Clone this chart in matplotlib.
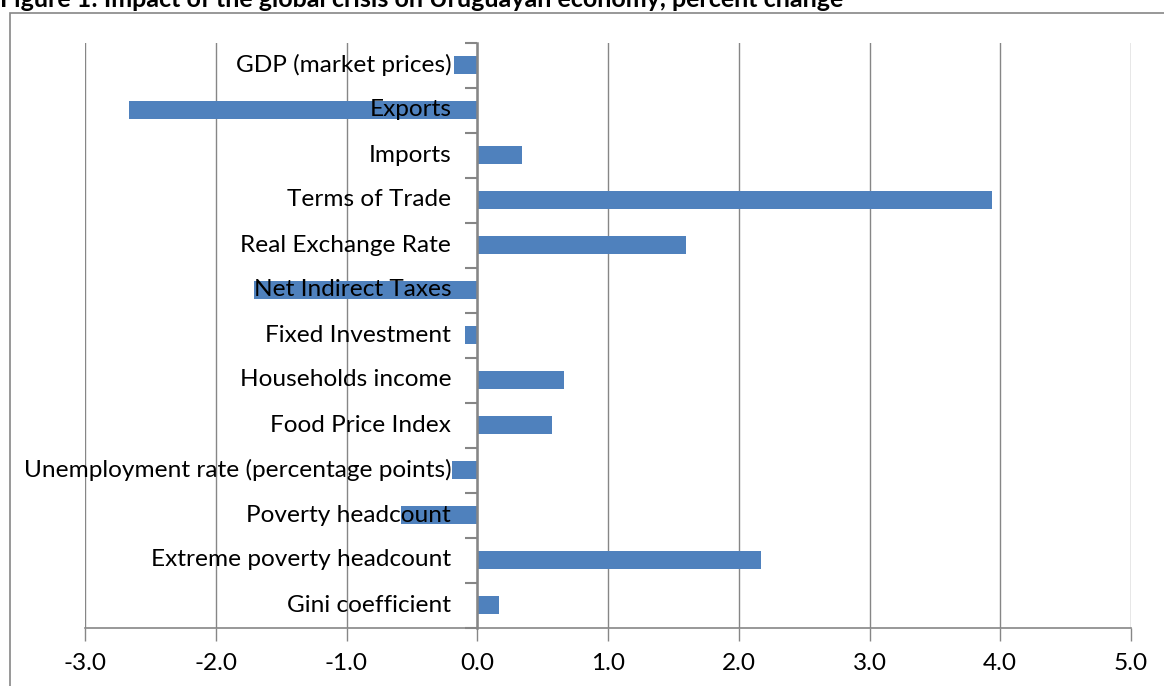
import matplotlib
matplotlib.use("Agg")
import matplotlib.pyplot as plt
from matplotlib.patches import Rectangle

categories = [
    "GDP (market prices)",
    "Exports",
    "Imports",
    "Terms of Trade",
    "Real Exchange Rate",
    "Net Indirect Taxes",
    "Fixed Investment",
    "Households income",
    "Food Price Index",
    "Unemployment rate (percentage points)",
    "Poverty headcount",
    "Extreme poverty headcount",
    "Gini coefficient",
]
values = [-0.18, -2.66, 0.34, 3.94, 1.60, -1.71, -0.09, 0.66, 0.57, -0.19, -0.58, 2.17, 0.17]
x_ticks = [-3.0, -2.0, -1.0, 0.0, 1.0, 2.0, 3.0, 4.0, 5.0]
title = "Figure 1: Impact of the global crisis on Uruguayan economy, percent change"

W, H = 1164, 686
DPI = 100
BAR = "#4F81BD"
GRID = "#868686"
FONT = "Lato"
FS = 17.6

fig = plt.figure(figsize=(W / DPI, H / DPI), dpi=DPI)

# outer chart border
fig.patches.append(Rectangle((9.5 / W, -0.05), 1.1, 1 - 13.5 / H + 0.05,
                             transform=fig.transFigure, fill=False,
                             edgecolor=GRID, linewidth=1.2))

fig.text(0.0, 1 - 7 / H, title, ha="left", va="baseline",
         fontsize=18, fontweight="bold", family=FONT)

left, right, top, bottom = 85, 1131, 42.5, 627.5
ax = fig.add_axes([left / W, 1 - bottom / H, (right - left) / W, (bottom - top) / H])

n = len(categories)
ypos = list(range(n))
ax.barh(ypos, values, height=0.4, color=BAR, zorder=2)

ax.set_xlim(x_ticks[0], x_ticks[-1])
ax.set_ylim(n - 0.5, -0.5)

ax.set_xticks(x_ticks)
ax.set_xticklabels([f"{v:.1f}" for v in x_ticks], family=FONT, fontsize=FS)
ax.tick_params(axis="x", direction="out", length=9, width=1, color=GRID, pad=9)
ax.xaxis.grid(True, color=GRID, linewidth=1, zorder=0)
ax.set_axisbelow(True)

ax.spines["left"].set_position(("data", 0))
ax.spines["left"].set_color(GRID)
ax.spines["left"].set_linewidth(1.8)
ax.spines["left"].set_zorder(3)
ax.spines["bottom"].set_color(GRID)
ax.spines["bottom"].set_linewidth(1.2)
ax.spines["top"].set_visible(False)
ax.spines["right"].set_visible(False)

ax.set_yticks([i - 0.5 for i in range(n + 1)])
ax.set_yticklabels([])
ax.tick_params(axis="y", direction="out", length=9, width=1.5, color=GRID)

for i, lab in enumerate(categories):
    ax.annotate(lab, xy=(0, i), xytext=(-26 * 72 / DPI, 0), textcoords="offset points",
                ha="right", va="center", fontsize=FS, family=FONT, zorder=4)

fig.savefig("out.png", dpi=DPI)
